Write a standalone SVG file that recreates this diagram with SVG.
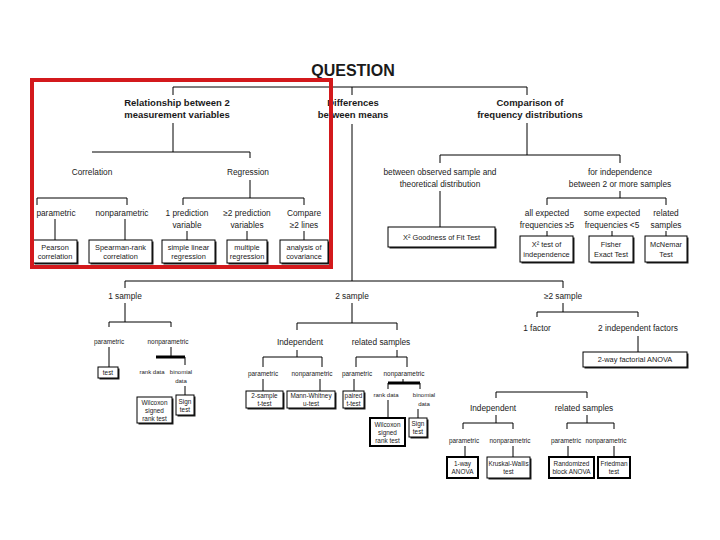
<svg xmlns="http://www.w3.org/2000/svg" width="720" height="540" viewBox="0 0 720 540">
<style>
text{font-family:"Liberation Sans","DejaVu Sans",sans-serif;fill:#1a1a1a;text-anchor:middle}
.q{font-size:16px;font-weight:bold}
.h{font-size:9.5px;font-weight:bold}
.m{font-size:8.3px}
.s{font-size:6.4px}
.t{font-size:6px}
.b{font-size:7.4px}
.c line,.c path{stroke:#000;stroke-width:1;fill:none}
.c .thick{stroke-width:3}
.sh{fill:#222}
.bx{fill:#fff;stroke:#000;stroke-width:1}
.bx2{fill:#fff;stroke:#000;stroke-width:2}
</style>
<rect width="720" height="540" fill="#fff"/>

<g id="connectors" class="c">
<path d="M173,95 V87 H527 V95"/>
<path d="M352,87 V95"/>
<path d="M352,124 V281"/>
<path d="M173,123 V152"/>
<path d="M92,152 H250"/>
<path d="M37,205 V198 H127 V205"/>
<path d="M55,219 V240"/>
<path d="M125,219 V240"/>
<path d="M250,152 V158"/>
<path d="M250,180 V198"/>
<path d="M183,205 V198 H304 V205"/>
<path d="M187,231 V240"/>
<path d="M247,231 V240"/>
<path d="M304,231 V240"/>
<path d="M527,123 V155"/>
<path d="M440,163 V155 H620 V163"/>
<path d="M440,191 V227"/>
<path d="M620,191 V198"/>
<path d="M547,205 V198 H666 V205"/>
<path d="M547,231 V236"/>
<path d="M612,231 V236"/>
<path d="M666,231 V236"/>
<path d="M125,288 V281 H563 V288"/>
<path d="M125,303 V322"/>
<path d="M109,327 V322 H171 V327"/>
<path d="M109,347 V367"/>
<path d="M171,347 V357"/>
<path class="thick" d="M156,357 H185"/>
<path d="M185,357 V365"/>
<path d="M185,386 V395"/>
<path d="M352,303 V323"/>
<path d="M297,330 V323 H397 V330"/>
<path d="M297,350 V357"/>
<path d="M263,367 V357 H322 V367"/>
<path d="M263,379 V391"/>
<path d="M320,379 V391"/>
<path d="M397,350 V357"/>
<path d="M356,367 V357 H407 V367"/>
<path d="M354,379 V391"/>
<path d="M403,379 V383"/>
<path class="thick" d="M388,383 H420"/>
<path d="M388,383 V389"/>
<path d="M420,383 V389"/>
<path d="M388,400 V418"/>
<path d="M418,409 V418"/>
<path d="M563,303 V312"/>
<path d="M537,317 V312 H638 V317"/>
<path d="M638,336 V352"/>
<path d="M496,398 V392 H587 V398"/>
<path d="M496,415 V423"/>
<path d="M463,429 V423 H513 V429"/>
<path d="M587,415 V423"/>
<path d="M567,429 V423 H614 V429"/>
<path d="M465,446 V457"/>
<path d="M513,446 V457"/>
<path d="M568,446 V457"/>
<path d="M614,446 V457"/>
</g>

<g id="question"><text class="q" x="353" y="76">QUESTION</text></g>

<g id="relationship"><text class="h" x="177" y="106">Relationship between 2</text><text class="h" x="177" y="118">measurement variables</text></g>
<g id="differences"><text class="h" x="353" y="106">Differences</text><text class="h" x="353" y="118">between means</text></g>
<g id="comparison"><text class="h" x="530" y="106">Comparison of</text><text class="h" x="530" y="118">frequency distributions</text></g>

<g id="correlation"><text class="m" x="92" y="175">Correlation</text></g>
<g id="regression"><text class="m" x="248" y="175">Regression</text></g>
<g id="corr-param"><text class="m" x="56" y="216">parametric</text></g>
<g id="corr-nonparam"><text class="m" x="122" y="216">nonparametric</text></g>
<g id="reg-1"><text class="m" x="187" y="216">1 prediction</text><text class="m" x="187" y="228">variable</text></g>
<g id="reg-2"><text class="m" x="247" y="216">≥2 prediction</text><text class="m" x="247" y="228">variables</text></g>
<g id="reg-3"><text class="m" x="304" y="216">Compare</text><text class="m" x="304" y="228">≥2 lines</text></g>

<g id="pearson"><rect class="sh" x="34.5" y="241.5" width="44" height="23"/><rect class="bx" x="33" y="240" width="44" height="23"/><text class="b" x="55" y="250">Pearson</text><text class="b" x="55" y="259">correlation</text></g>
<g id="spearman"><rect class="sh" x="90.5" y="241.5" width="63" height="23"/><rect class="bx" x="89" y="240" width="63" height="23"/><text class="b" x="120.5" y="250">Spearman-rank</text><text class="b" x="120.5" y="259">correlation</text></g>
<g id="simple-linear"><rect class="sh" x="163.5" y="241.5" width="53" height="23"/><rect class="bx" x="162" y="240" width="53" height="23"/><text class="b" x="188.5" y="250">simple linear</text><text class="b" x="188.5" y="259">regression</text></g>
<g id="multiple"><rect class="sh" x="228.5" y="241.5" width="40" height="23"/><rect class="bx" x="227" y="240" width="40" height="23"/><text class="b" x="247" y="250">multiple</text><text class="b" x="247" y="259">regression</text></g>
<g id="ancova"><rect class="sh" x="281.5" y="241.5" width="48" height="23"/><rect class="bx" x="280" y="240" width="48" height="23"/><text class="b" x="304" y="250">analysis of</text><text class="b" x="304" y="259">covariance</text></g>

<g id="highlight"><rect x="32" y="80" width="299" height="187" fill="none" stroke="#d3191c" stroke-width="4"/></g>

<g id="observed"><text class="m" x="440" y="175">between observed sample and</text><text class="m" x="440" y="187">theoretical distribution</text></g>
<g id="independence"><text class="m" x="620" y="175">for independence</text><text class="m" x="620" y="187">between 2 or more samples</text></g>
<g id="all-expected"><text class="m" x="547" y="216">all expected</text><text class="m" x="547" y="228">frequencies ≥5</text></g>
<g id="some-expected"><text class="m" x="612" y="216">some expected</text><text class="m" x="612" y="228">frequencies &lt;5</text></g>
<g id="related"><text class="m" x="666" y="216">related</text><text class="m" x="666" y="228">samples</text></g>

<g id="goodness"><rect class="sh" x="389.5" y="228.5" width="107" height="20"/><rect class="bx" x="388" y="227" width="107" height="20"/><text class="b" x="441.5" y="240">X² Goodness of Fit Test</text></g>
<g id="chi-test"><rect class="sh" x="521.5" y="237.5" width="53" height="26"/><rect class="bx" x="520" y="236" width="53" height="26"/><text class="b" x="546.5" y="247">X² test of</text><text class="b" x="546.5" y="257">independence</text></g>
<g id="fisher"><rect class="sh" x="590.5" y="237.5" width="44" height="26"/><rect class="bx" x="589" y="236" width="44" height="26"/><text class="b" x="611" y="247">Fisher</text><text class="b" x="611" y="257">Exact Test</text></g>
<g id="mcnemar"><rect class="sh" x="646.5" y="237.5" width="42" height="26"/><rect class="bx" x="645" y="236" width="42" height="26"/><text class="b" x="666" y="247">McNemar</text><text class="b" x="666" y="257">Test</text></g>

<g id="one-sample"><text class="m" x="125" y="299">1 sample</text></g>
<g id="two-sample"><text class="m" x="352" y="299">2 sample</text></g>
<g id="many-sample"><text class="m" x="563" y="299">≥2 sample</text></g>

<g id="s1-param"><text class="s" x="109" y="344">parametric</text></g>
<g id="s1-nonparam"><text class="s" x="168" y="344">nonparametric</text></g>
<g id="s1-ttest"><rect class="sh" x="99.5" y="368.5" width="20" height="11"/><rect class="bx" x="98" y="367" width="20" height="11"/><text class="s" x="108" y="375">test</text></g>
<g id="s1-rank"><text class="t" x="152" y="374">rank data</text></g>
<g id="s1-binom"><text class="t" x="181" y="374">binomial</text><text class="t" x="181" y="383">data</text></g>
<g id="s1-wilcoxon"><rect class="sh" x="138.5" y="398.5" width="35" height="26"/><rect class="bx" x="137" y="397" width="35" height="26"/><text class="s" x="154.5" y="405">Wilcoxon</text><text class="s" x="154.5" y="413">signed</text><text class="s" x="154.5" y="421">rank test</text></g>
<g id="s1-sign"><rect class="sh" x="177.5" y="396.5" width="18" height="20"/><rect class="bx" x="176" y="395" width="18" height="20"/><text class="s" x="185" y="404">Sign</text><text class="s" x="185" y="412">test</text></g>

<g id="s2-indep"><text class="m" x="300" y="345">Independent</text></g>
<g id="s2-related"><text class="m" x="381" y="345">related samples</text></g>
<g id="s2-i-param"><text class="s" x="263" y="376">parametric</text></g>
<g id="s2-i-nonparam"><text class="s" x="312" y="376">nonparametric</text></g>
<g id="s2-r-param"><text class="s" x="357" y="376">parametric</text></g>
<g id="s2-r-nonparam"><text class="s" x="404" y="376">nonparametric</text></g>
<g id="s2-ttest"><rect class="sh" x="247.5" y="392.5" width="37" height="17"/><rect class="bx" x="246" y="391" width="37" height="17"/><text class="s" x="264.5" y="398">2-sample</text><text class="s" x="264.5" y="406">t-test</text></g>
<g id="s2-mann"><rect class="sh" x="288.5" y="392.5" width="48" height="17"/><rect class="bx" x="287" y="391" width="48" height="17"/><text class="s" x="311" y="398">Mann-Whitney</text><text class="s" x="311" y="406">u-test</text></g>
<g id="s2-paired"><rect class="sh" x="344.5" y="392.5" width="21" height="17"/><rect class="bx" x="343" y="391" width="21" height="17"/><text class="s" x="353.5" y="398">paired</text><text class="s" x="353.5" y="406">t-test</text></g>
<g id="s2-rank"><text class="t" x="386" y="397">rank data</text></g>
<g id="s2-binom"><text class="t" x="424" y="397">binomial</text><text class="t" x="424" y="406">data</text></g>
<g id="s2-wilcoxon"><rect class="bx2" x="370" y="418" width="35" height="28"/><text class="s" x="387.5" y="427">Wilcoxon</text><text class="s" x="387.5" y="435">signed</text><text class="s" x="387.5" y="443">rank test</text></g>
<g id="s2-sign"><rect class="sh" x="410.5" y="419.5" width="18" height="19"/><rect class="bx" x="409" y="418" width="18" height="19"/><text class="s" x="418" y="426">Sign</text><text class="s" x="418" y="434">test</text></g>

<g id="s3-1factor"><text class="m" x="537" y="331">1 factor</text></g>
<g id="s3-2factor"><text class="m" x="638" y="331">2 independent factors</text></g>
<g id="s3-2way"><rect class="sh" x="584.5" y="353.5" width="104" height="15"/><rect class="bx" x="583" y="352" width="104" height="15"/><text class="b" x="635" y="362">2-way factorial ANOVA</text></g>
<g id="s3-indep"><text class="m" x="493" y="411">Independent</text></g>
<g id="s3-related"><text class="m" x="584" y="411">related samples</text></g>
<g id="s3-i-param"><text class="s" x="464" y="443">parametric</text></g>
<g id="s3-i-nonparam"><text class="s" x="510" y="443">nonparametric</text></g>
<g id="s3-r-param"><text class="s" x="566" y="443">parametric</text></g>
<g id="s3-r-nonparam"><text class="s" x="606" y="443">nonparametric</text></g>
<g id="s3-anova"><rect class="bx2" x="447" y="457" width="31" height="21"/><text class="s" x="462.5" y="466">1-way</text><text class="s" x="462.5" y="474">ANOVA</text></g>
<g id="s3-kruskal"><rect class="sh" x="488.5" y="458.5" width="43" height="21"/><rect class="bx" x="487" y="457" width="43" height="21"/><text class="s" x="508.5" y="466">Kruskal-Wallis</text><text class="s" x="508.5" y="474">test</text></g>
<g id="s3-block"><rect class="bx2" x="549" y="457" width="45" height="21"/><text class="s" x="571.5" y="466">Randomized</text><text class="s" x="571.5" y="474">block ANOVA</text></g>
<g id="s3-friedman"><rect class="bx2" x="598" y="457" width="32" height="21"/><text class="s" x="614" y="466">Friedman</text><text class="s" x="614" y="474">test</text></g>
</svg>
